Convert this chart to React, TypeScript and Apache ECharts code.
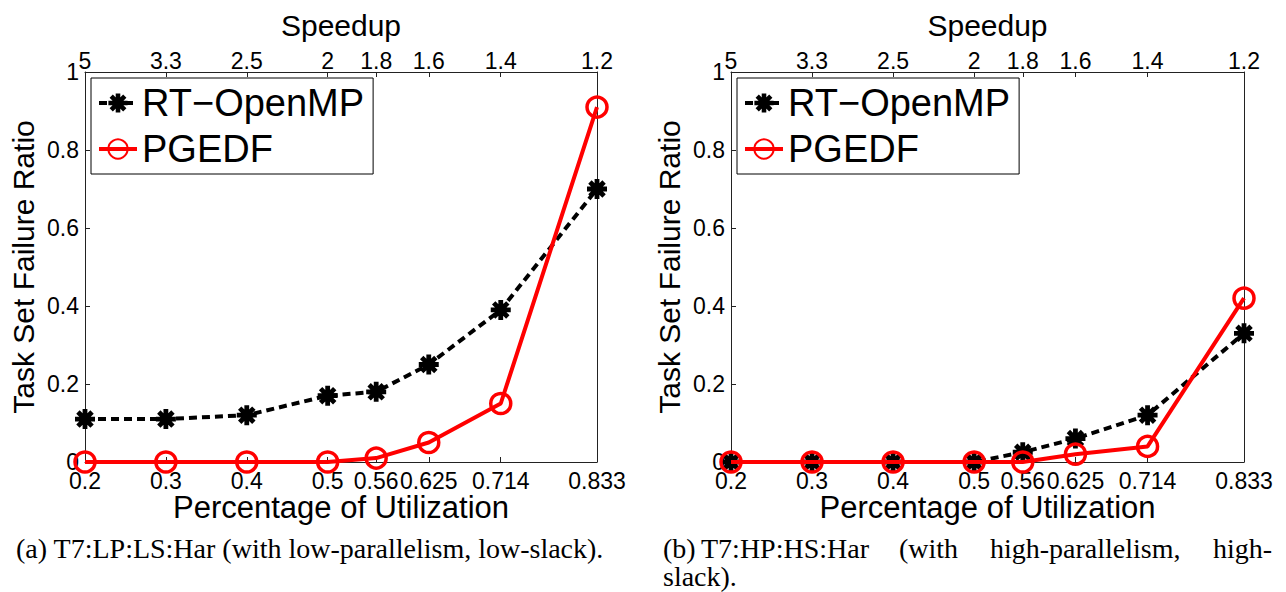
import React, { useEffect, useRef } from "react";
import * as echarts from "echarts";

// ---- data ----
const utilization = [0.2, 0.3, 0.4, 0.5, 0.56, 0.625, 0.714, 0.833];
const utilizationLabels = ["0.2", "0.3", "0.4", "0.5", "0.56", "0.625", "0.714", "0.833"];
const speedupLabels = ["5", "3.3", "2.5", "2", "1.8", "1.6", "1.4", "1.2"];
const yTicks = [0, 0.2, 0.4, 0.6, 0.8, 1];
const yTickLabels = ["0", "0.2", "0.4", "0.6", "0.8", "1"];

const leftRtOpenMP = [0.11, 0.11, 0.12, 0.17, 0.18, 0.25, 0.39, 0.7];
const leftPGEDF = [0, 0, 0, 0, 0.01, 0.05, 0.15, 0.91];
const rightRtOpenMP = [0, 0, 0, 0, 0.025, 0.06, 0.12, 0.33];
const rightPGEDF = [0, 0, 0, 0, 0, 0.02, 0.04, 0.42];

const seriesNames = ["RT\u2212OpenMP", "PGEDF"];
const captionA = "(a) T7:LP:LS:Har (with low-parallelism, low-slack).";
const captionBWords = ["(b)", "T7:HP:HS:Har", "(with", "high-parallelism,", "high-"];
const captionBLine2 = "slack).";

const SANS = "'Liberation Sans', Arial, Helvetica, sans-serif";
const SERIF = "'Liberation Serif', 'Times New Roman', serif";

function asteriskPath(): string {
  const L = 1;
  const w = 0.24;
  const parts: string[] = [];
  [0, 45, 90, 135].forEach((deg) => {
    const a = (deg * Math.PI) / 180;
    const dx = Math.cos(a), dy = Math.sin(a);
    const nx = -dy, ny = dx;
    const pts = [
      [dx * L + nx * w, dy * L + ny * w],
      [dx * L - nx * w, dy * L - ny * w],
      [-dx * L - nx * w, -dy * L - ny * w],
      [-dx * L + nx * w, -dy * L + ny * w],
    ];
    parts.push(
      "M" + pts.map((p) => p[0].toFixed(3) + " " + p[1].toFixed(3)).join(" L") + " Z"
    );
  });
  return "path://" + parts.join(" ");
}

function idxOf(v: number): number {
  return utilization.findIndex((u) => Math.abs(u - v) < 1e-6);
}

export default function App() {
  const ref = useRef<HTMLDivElement>(null);

  useEffect(() => {
    if (!ref.current) return;
    const chart = echarts.init(ref.current, null, { renderer: "svg" });
    const star = asteriskPath();

    const grids = [
      { left: 85, right: 1286 - 597, top: 72, bottom: 592 - 462 },
      { left: 731, right: 1286 - 1244, top: 72, bottom: 592 - 462 },
    ];

    const xAxes: any[] = [];
    const yAxes: any[] = [];
    grids.forEach((_, g) => {
      xAxes.push({
        type: "value",
        gridIndex: g,
        position: "bottom",
        min: 0.2,
        max: 0.833,
        axisLine: { show: true, onZero: false, lineStyle: { color: "#222", width: 1 } },
        axisTick: { show: true, inside: true, length: 5, customValues: utilization, lineStyle: { color: "#222" } },
        axisLabel: {
          show: true,
          customValues: utilization,
          formatter: (v: number) => utilizationLabels[idxOf(v)] ?? "",
          fontSize: 23,
          fontFamily: SANS,
          color: "#000",
          margin: 7,
          hideOverlap: false,
        },
        splitLine: { show: false },
        name: "Percentage of Utilization",
        nameLocation: "middle",
        nameGap: 30,
        nameMoveOverlap: false,
        nameTextStyle: { fontSize: 31, fontFamily: SANS, color: "#000" },
      });
      xAxes.push({
        type: "value",
        gridIndex: g,
        position: "top",
        min: 0.2,
        max: 0.833,
        axisLine: { show: true, onZero: false, lineStyle: { color: "#222", width: 1 } },
        axisTick: { show: true, inside: true, length: 5, customValues: utilization, lineStyle: { color: "#222" } },
        axisLabel: {
          show: true,
          customValues: utilization,
          formatter: (v: number) => speedupLabels[idxOf(v)] ?? "",
          fontSize: 23,
          fontFamily: SANS,
          color: "#000",
          margin: 0,
          hideOverlap: false,
        },
        splitLine: { show: false },
        name: "Speedup",
        nameLocation: "middle",
        nameGap: 32,
        nameTextStyle: { fontSize: 30, fontFamily: SANS, color: "#000" },
      });
      yAxes.push({
        type: "value",
        gridIndex: g,
        position: "left",
        min: 0,
        max: 1,
        interval: 0.2,
        axisLine: { show: true, onZero: false, lineStyle: { color: "#222", width: 1 } },
        axisTick: { show: true, inside: true, length: 5, lineStyle: { color: "#222" } },
        axisLabel: {
          show: true,
          formatter: (v: number) => {
            const k = yTicks.findIndex((t) => Math.abs(t - v) < 1e-6);
            return k >= 0 ? yTickLabels[k] : "";
          },
          fontSize: 23,
          fontFamily: SANS,
          color: "#000",
          margin: 6,
        },
        splitLine: { show: false },
        name: "Task Set Failure Ratio",
        nameLocation: "middle",
        nameGap: 47,
        nameTextStyle: { fontSize: 30, fontFamily: SANS, color: "#000" },
      });
      yAxes.push({
        type: "value",
        gridIndex: g,
        position: "right",
        min: 0,
        max: 1,
        axisLine: { show: true, onZero: false, lineStyle: { color: "#222", width: 1 } },
        axisTick: { show: false },
        axisLabel: { show: false },
        splitLine: { show: false },
      });
    });

    const mk = (vals: number[]) => utilization.map((u, k) => [u, vals[k]]);

    const rtSeries = (g: number, vals: number[]) => ({
      name: seriesNames[0],
      type: "line",
      xAxisIndex: g * 2,
      yAxisIndex: g * 2,
      data: mk(vals),
      symbol: star,
      symbolSize: 20,
      clip: false,
      lineStyle: { color: "#000", width: 4, type: [8, 5] },
      itemStyle: { color: "#000" },
      z: 2,
    });
    const pgSeries = (g: number, vals: number[]) => ({
      name: seriesNames[1],
      type: "line",
      xAxisIndex: g * 2,
      yAxisIndex: g * 2,
      data: mk(vals),
      symbol: "circle",
      symbolSize: 20,
      clip: false,
      lineStyle: { color: "#ff0000", width: 4, type: "solid" },
      itemStyle: { color: "rgba(255,255,255,0)", borderColor: "#ff0000", borderWidth: 3.5 },
      z: 3,
    });

    const legendCommon = {
      orient: "vertical",
      top: 78,
      data: seriesNames,
      itemWidth: 38,
      itemHeight: 24,
      itemGap: 6,
      padding: [5, 9, 5, 6],
      borderColor: "#000",
      borderWidth: 1,
      backgroundColor: "#fff",
      textStyle: { fontSize: 38, fontFamily: SANS, color: "#000", lineHeight: 40 },
      lineStyle: { width: 4 },
      selectedMode: false,
    };

    const captionBX = [663, 701, 899, 990, 1213];

    const option: any = {
      animation: false,
      backgroundColor: "#fff",
      grid: grids.map((g) => ({ ...g, containLabel: false })),
      xAxis: xAxes,
      yAxis: yAxes,
      legend: [
        { ...legendCommon, left: 91 },
        { ...legendCommon, left: 737 },
      ],
      series: [
        rtSeries(0, leftRtOpenMP),
        pgSeries(0, leftPGEDF),
        rtSeries(1, rightRtOpenMP),
        pgSeries(1, rightPGEDF),
      ],
      graphic: [
        {
          type: "text",
          x: 16,
          y: 548,
          style: { text: captionA, fontSize: 28, fontFamily: SERIF, fill: "#000", verticalAlign: "middle" },
        },
        ...captionBWords.map((w, k) => ({
          type: "text",
          x: captionBX[k],
          y: 548,
          style: { text: w, fontSize: 28, fontFamily: SERIF, fill: "#000", verticalAlign: "middle" },
        })),
        {
          type: "text",
          x: 663,
          y: 576,
          style: { text: captionBLine2, fontSize: 28, fontFamily: SERIF, fill: "#000", verticalAlign: "middle" },
        },
      ],
    };

    chart.setOption(option);
    return () => chart.dispose();
  }, []);

  return (
    <div
      ref={ref}
      style={{ position: "absolute", left: 0, top: 0, width: 1286, height: 592, background: "#fff" }}
    />
  );
}
